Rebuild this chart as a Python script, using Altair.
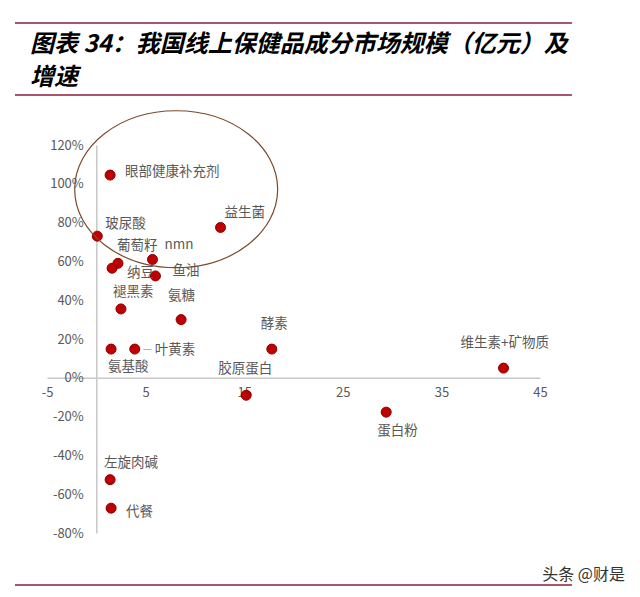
import altair as alt
import pandas as pd

# ---- data ----
names = ["眼部健康补充剂", "玻尿酸", "益生菌", "葡萄籽", "纳豆", "nmn", "鱼油",
         "褪黑素", "氨糖", "氨基酸", "叶黄素", "酵素", "胶原蛋白", "维生素+矿物质",
         "蛋白粉", "左旋肉碱", "代餐"]
market_size = [1.4, 0.1, 12.6, 2.2, 1.6, 5.7, 6.0,
               2.5, 8.6, 1.5, 3.9, 17.8, 15.2, 41.3,
               29.4, 1.4, 1.5]
growth = [1.045, 0.73, 0.775, 0.59, 0.565, 0.61, 0.525,
          0.355, 0.30, 0.148, 0.148, 0.148, -0.09, 0.05,
          -0.177, -0.525, -0.672]

x_ticks = [-5, 5, 15, 25, 35, 45]
y_ticks = [-0.8, -0.6, -0.4, -0.2, 0, 0.2, 0.4, 0.6, 0.8, 1.0, 1.2]

title_lines = ["图表 34：我国线上保健品成分市场规模（亿元）及", "增速"]
watermark = "头条 @财是"

# ellipse annotation: centre in data units
ellipse_center = {"x": [8.1], "y": [0.972]}

df = pd.DataFrame({"name": names, "x": market_size, "y": growth})

# label placement (dx, dy in px)
label_style = {
    "眼部健康补充剂": (15, -3),
    "玻尿酸": (8, -12),
    "益生菌": (4, -14),
    "葡萄籽": (-1, -17),
    "纳豆": (15, 5),
    "nmn": (12, -14),
    "鱼油": (17, -5),
    "褪黑素": (-8, -17),
    "氨糖": (-13, -24),
    "氨基酸": (-3, 18),
    "叶黄素": (20, 1),
    "酵素": (-11, -25),
    "胶原蛋白": (-28, -26),
    "维生素+矿物质": (-43, -25),
    "蛋白粉": (-9, 19),
    "左旋肉碱": (-6, -17),
    "代餐": (15, 4),
}

FONT = "Noto Sans CJK SC"
W, H = 493, 388
fix_minus = "replace(datum.label, '\u2212', '-')"

xs = alt.Scale(domain=[-5, 45], nice=False, zero=False)
ys = alt.Scale(domain=[-0.8, 1.2], nice=False, zero=False)

x_axis = alt.Axis(values=x_ticks, title=None, grid=False, ticks=False,
                  domainColor="#c8c8c8", domainWidth=1.5,
                  labelColor="#595959", labelFontSize=13, labelFont=FONT,
                  labelPadding=9, offset=-(H * 0.8 / 2.0), labelFlush=False,
                  labelOverlap=False, labelExpr=fix_minus)
y_axis = alt.Axis(values=y_ticks, format=".0%", title=None, grid=False, ticks=False,
                  domainColor="#c8c8c8", domainWidth=1.5,
                  labelColor="#595959", labelFontSize=13, labelFont=FONT,
                  labelPadding=13, offset=-(W * 5 / 50.0), labelFlush=False,
                  labelOverlap=False, labelBound=False, labelExpr=fix_minus)

XE = alt.X("x:Q", scale=xs, axis=x_axis)
YE = alt.Y("y:Q", scale=ys, axis=y_axis)

base = alt.Chart(df)

points = base.mark_point(filled=True, size=100, color="#C00000", stroke="#8B0000",
                         strokeWidth=1, opacity=1).encode(x=XE, y=YE)

layers = [points]
for n in names:
    dx, dy = label_style[n]
    layers.append(
        base.transform_filter(alt.datum.name == n).mark_text(
            dx=dx, dy=dy, align="left", baseline="middle", font=FONT, fontSize=13.5,
            color="#595959").encode(x=XE, y=YE, text="name:N")
    )

# leader for 叶黄素
layers.append(
    base.transform_filter(alt.datum.name == "叶黄素").mark_text(
        text="—", dx=8, dy=0, align="left", baseline="middle", font=FONT, fontSize=10,
        color="#a0a0a0").encode(x=XE, y=YE)
)

ellipse = alt.Chart(pd.DataFrame(ellipse_center)).mark_point(
    shape="M -1 0 A 1 0.773 0 1 0 1 0 A 1 0.773 0 1 0 -1 0",
    size=203 * 203, filled=False, stroke="#7a4a2a", strokeWidth=1.2, opacity=1
).encode(x=XE, y=YE)
layers.append(ellipse)

line_color = "#8E1B3C"
rule_df = pd.DataFrame({"k": [0]})
for yy in [-122, -50, 440]:
    layers.append(alt.Chart(rule_df).mark_rule(color=line_color, strokeWidth=1.5).encode(
        x=alt.value(-32), x2=alt.value(525), y=alt.value(yy)))

title_df = pd.DataFrame({"t": title_lines, "i": [0, 1]})
for i, yy in [(0, -100), (1, -67)]:
    layers.append(alt.Chart(title_df).transform_filter(alt.datum.i == i).mark_text(
        align="left", baseline="middle", font=FONT, fontSize=24, fontWeight="bold",
        fontStyle="italic", color="#000000").encode(
        x=alt.value(-17), y=alt.value(yy), text="t:N"))

layers.append(alt.Chart(pd.DataFrame({"t": [watermark]})).mark_text(
    align="right", baseline="middle", font=FONT, fontSize=16, color="#333333").encode(
    x=alt.value(578), y=alt.value(430), text="t:N"))

chart = alt.layer(*layers).properties(
    width=W, height=H,
    autosize=alt.AutoSizeParams(type="none"),
    padding={"left": 39, "top": 137, "right": 90, "bottom": 54},
).configure_view(stroke=None).configure_axis(labelOverlap=False)

chart.save("out.html", embed_options={"renderer": "svg", "actions": False})
